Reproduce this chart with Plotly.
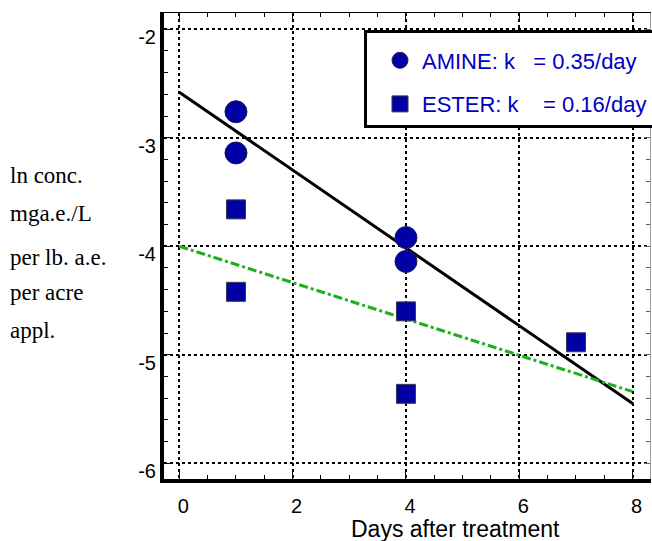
import plotly.graph_objects as go

# ---- data ----
amine_days = [1, 1, 4, 4]
amine_ln = [-2.76, -3.14, -3.92, -4.14]
ester_days = [1, 1, 4, 4, 7]
ester_ln = [-3.66, -4.42, -4.60, -5.36, -4.885]
fit_days = [0, 8]
amine_fit = [-2.58, -5.45]
ester_fit = [-4.00, -5.34]
amine_label = "AMINE: k\u00a0\u00a0\u00a0= 0.35/day"
ester_label = "ESTER: k\u00a0\u00a0\u00a0\u00a0= 0.16/day"
ylabel_lines = ["ln conc.", "mga.e./L", "per lb. a.e.", "per acre", "appl."]
xtitle = "Days after treatment"
x_tickvals = [0, 2, 4, 6, 8]
x_ticktext = ["0", "2", "4", "6", "8"]
y_tickvals = [-6, -5, -4, -3, -2]
y_ticktext = ["-6", "-5", "-4", "-3", "-2"]
xrange_ = [-0.27, 8.306]
yrange_ = [-6.145, -1.85]

W, H = 652, 541
ML, MR, MT, MB = 164, 2, 13, 62
plot_w = W - ML - MR
plot_h = H - MT - MB

fig = go.Figure()
fig.add_trace(go.Scatter(x=fit_days, y=amine_fit, mode="lines",
                         line=dict(color="black", width=3), showlegend=False))
fig.add_trace(go.Scatter(x=fit_days, y=ester_fit, mode="lines",
                         line=dict(color="#1fb01f", width=3, dash="dashdot"), showlegend=False))
fig.add_trace(go.Scatter(x=amine_days, y=amine_ln, mode="markers", name=amine_label,
                         legendgroup="a",
                         marker=dict(symbol="circle", size=22, color="#0000a4",
                                     line=dict(color="#1c1c50", width=1))))
fig.add_trace(go.Scatter(x=ester_days, y=ester_ln, mode="markers", name=ester_label,
                         legendgroup="b",
                         marker=dict(symbol="square", size=19, color="#0000a4",
                                     line=dict(color="#3a3a50", width=1))))
# empty trace to host the mirror (top/right) frame axes
fig.add_trace(go.Scatter(x=[], y=[], xaxis="x2", yaxis="y2", showlegend=False))

tickfont = dict(family="Liberation Sans", size=20, color="black")

fig.update_layout(
    width=W, height=H,
    margin=dict(l=ML, r=MR, t=MT, b=MB, autoexpand=False),
    paper_bgcolor="white", plot_bgcolor="white",
    showlegend=True,
    legend=dict(x=(364 - ML) / plot_w, y=(H - MB - 30) / plot_h,
                xanchor="left", yanchor="top",
                bgcolor="white", bordercolor="black", borderwidth=3,
                font=dict(family="Liberation Sans", size=22, color="#0000c4"),
                title=dict(text="\u00a0", font=dict(size=5)),
                tracegroupgap=12, itemsizing="trace", itemwidth=34,
                indentation=11),
    xaxis=dict(range=xrange_, tickmode="array", tickvals=x_tickvals, ticktext=x_ticktext,
               showline=True, linecolor="black", linewidth=4,
               ticks="inside", ticklen=7, tickcolor="black", tickwidth=1,
               showgrid=True, gridcolor="black", gridwidth=2, griddash="dot",
               zeroline=False, tickfont=tickfont, ticklabelshift=4,
               ticklabelstandoff=6,
               minor=dict(dtick=0.5, tick0=0, ticks="inside", ticklen=4,
                          tickcolor="black", showgrid=False)),
    yaxis=dict(range=yrange_, tickmode="array", tickvals=y_tickvals, ticktext=y_ticktext,
               showline=True, linecolor="black", linewidth=4,
               ticks="inside", ticklen=7, tickcolor="black", tickwidth=1,
               showgrid=True, gridcolor="black", gridwidth=2, griddash="dot",
               zeroline=False, tickfont=tickfont, ticklabelshift=8,
               ticklabelstandoff=0,
               minor=dict(dtick=0.2, tick0=0, ticks="inside", ticklen=4,
                          tickcolor="black", showgrid=False)),
    xaxis2=dict(range=xrange_, overlaying="x", side="top", dtick=2, tick0=0,
                showline=True, linecolor="black", linewidth=1,
                ticks="inside", ticklen=6, tickcolor="black",
                showticklabels=False, showgrid=False, zeroline=False,
                minor=dict(dtick=0.5, tick0=0, ticks="inside", ticklen=4,
                           tickcolor="black", showgrid=False)),
    yaxis2=dict(range=yrange_, overlaying="y", side="right", dtick=1, tick0=0,
                showline=True, linecolor="#999999", linewidth=1,
                ticks="inside", ticklen=6, tickcolor="#666666",
                showticklabels=False, showgrid=False, zeroline=False,
                minor=dict(dtick=0.2, tick0=0, ticks="inside", ticklen=4,
                           tickcolor="#666666", showgrid=False)),
)

# y-axis description (left, serif, one annotation per line)
ylabel_py = [176, 214, 257, 292, 330]
for txt, py in zip(ylabel_lines, ylabel_py):
    fig.add_annotation(text=txt, xref="paper", yref="paper",
                       x=(8 - ML) / plot_w, y=(H - MB - py) / plot_h,
                       xanchor="left", yanchor="middle", showarrow=False,
                       font=dict(family="Liberation Serif", size=23, color="black"))

fig.add_annotation(text=xtitle, xref="paper", yref="paper",
                   x=(455 - ML) / plot_w, y=(H - MB - 529) / plot_h,
                   xanchor="center", yanchor="middle", showarrow=False,
                   font=dict(family="Liberation Sans", size=23, color="black"))

fig.write_html("out.html", config={"displayModeBar": False},
               post_script="document.body.style.margin='0px';document.body.style.overflow='hidden';")
